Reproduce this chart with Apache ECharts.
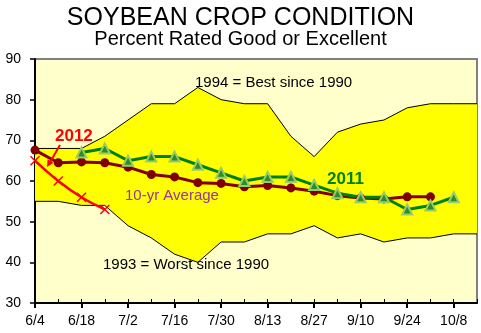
<!DOCTYPE html>
<html>
<head>
<meta charset="utf-8">
<script src="https://cdn.jsdelivr.net/npm/echarts@6/dist/echarts.min.js"></script>
<style>html,body{margin:0;padding:0;background:#fff}#c{width:481px;height:333px}</style>
</head>
<body>
<div id="c"></div>
<script>
var categories = ['6/4','6/11','6/18','6/25','7/2','7/9','7/16','7/23','7/30','8/6','8/13','8/20','8/27','9/3','9/10','9/17','9/24','10/1','10/8','10/15'];
var best1994 = [68,68,68,71,75,79,79,83,80,79,79,71,66,72,74,75,78,79,79,79];
var worst1993 = [55,55,54,54,49,46,42,40,45,45,47,47,49,46,47,45,46,46,47,47];
var avg10yr = [67.6,64.5,64.7,64.5,63.4,61.6,61,59.6,59.4,58.6,58.9,58.3,57.5,56.4,55.8,55.6,56.1,56.1,null,null];
var y2011 = [null,null,67,68,65,66,66,64,62,60,61,61,59,57,56,56,53,54,56,null];
var y2012 = [65,60,56,53,null,null,null,null,null,null,null,null,null,null,null,null,null,null,null,null];
var yTicks = {min:30, max:90, interval:10};

var FONT = 'Arial, "Liberation Sans", sans-serif';
var bandRange = best1994.map(function(v,i){ return v - worst1993[i]; });

var chart = echarts.init(document.getElementById('c'), null, {renderer:'canvas'});
chart.setOption({
  animation: false,
  title: {
    text: 'SOYBEAN CROP CONDITION',
    subtext: 'Percent Rated Good or Excellent',
    left: 'center', top: 1, itemGap: -2,
    textStyle: {fontFamily: FONT, fontSize: 25, fontWeight: 'normal', color: '#000'},
    subtextStyle: {fontFamily: FONT, fontSize: 20, color: '#000'}
  },
  grid: {left: 35, right: 4, top: 59, bottom: 30, show: true, backgroundColor: '#FFFFCC', borderColor: '#808080', borderWidth: 2},
  xAxis: [{
    type: 'category', data: categories, boundaryGap: false, position: 'bottom',
    axisLine: {lineStyle: {color: '#000', width: 2}},
    axisTick: {interval: 0, inside: true, length: 4, lineStyle: {color: '#000', width: 1}},
    axisLabel: {show: false}, splitLine: {show: false}
  },{
    type: 'category', data: categories, boundaryGap: false, position: 'bottom',
    axisLine: {show: false},
    axisTick: {interval: 1, inside: false, length: 5, lineStyle: {color: '#000', width: 2}},
    axisLabel: {interval: 1, fontFamily: FONT, fontSize: 14, color: '#000', margin: 11},
    splitLine: {show: false}
  }],
  yAxis: {
    type: 'value', min: yTicks.min, max: yTicks.max, interval: yTicks.interval,
    axisLine: {show: true, lineStyle: {color: '#000', width: 2}},
    axisTick: {show: true, length: 5, lineStyle: {color: '#000', width: 1.5}},
    axisLabel: {fontFamily: FONT, fontSize: 14, color: '#000', margin: 14},
    splitLine: {show: false}
  },
  series: [{
    type: 'line', data: worst1993, stack: 'band', symbol: 'none', silent: true,
    lineStyle: {color: '#000', width: 1}
  },{
    type: 'line', data: bandRange, stack: 'band', symbol: 'none', silent: true,
    lineStyle: {color: '#000', width: 1},
    areaStyle: {color: '#FFFF00', opacity: 1}
  },{
    type: 'line', data: avg10yr, symbol: 'circle', symbolSize: 9,
    lineStyle: {color: '#800000', width: 3},
    itemStyle: {color: '#800000'}
  },{
    type: 'line', data: y2011, symbol: 'triangle', symbolSize: 10,
    lineStyle: {color: '#008000', width: 3},
    itemStyle: {color: '#2E8B2E', borderColor: '#99CC66', borderWidth: 2}
  },{
    type: 'line', data: y2012, smooth: 0.4, symbol: 'path://M0,0L10,10M10,0L0,10', symbolSize: 9,
    lineStyle: {color: '#FF0000', width: 2.5},
    itemStyle: {color: 'rgba(0,0,0,0)', borderColor: '#FF0000', borderWidth: 1.5}
  }],
  graphic: [
    {type: 'text', z: 100, x: 195, y: 83, style: {text: '1994 = Best since 1990', font: '15px ' + FONT, fill: '#000', verticalAlign: 'middle'}},
    {type: 'text', z: 100, x: 103, y: 265, style: {text: '1993 = Worst since 1990', font: '15px ' + FONT, fill: '#000', verticalAlign: 'middle'}},
    {type: 'text', z: 100, x: 125, y: 196, style: {text: '10-yr Average', font: '15px ' + FONT, fill: '#993399', verticalAlign: 'middle'}},
    {type: 'text', z: 100, x: 55, y: 136, style: {text: '2012', font: 'bold 17px ' + FONT, fill: '#FF0000', verticalAlign: 'middle'}},
    {type: 'text', z: 100, x: 327, y: 179, style: {text: '2011', font: 'bold 17px ' + FONT, fill: '#008000', verticalAlign: 'middle'}},
    {type: 'line', z: 100, shape: {x1: 60, y1: 145, x2: 49, y2: 164}, style: {stroke: '#FF0000', lineWidth: 2}},
    {type: 'polygon', z: 100, shape: {points: [[47,167],[53.6,162.8],[47.6,159.2]]}, style: {fill: '#FF0000'}}
  ]
});
</script>
</body>
</html>
